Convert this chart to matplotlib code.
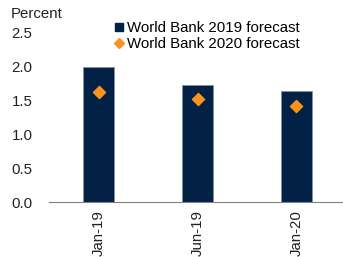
import numpy as np
import matplotlib.pyplot as plt
from matplotlib.lines import Line2D

plt.rcParams['font.family'] = ['Liberation Sans', 'DejaVu Sans']

categories = ['Jan-19', 'Jun-19', 'Jan-20']
wb2019 = [1.98, 1.72, 1.63]
wb2020 = [1.62, 1.52, 1.41]

fig = plt.figure(figsize=(3.43, 2.57), dpi=100)
ax = fig.add_axes([0.143, 0.214, 0.857, 0.661])

x = np.arange(len(categories))
ax.bar(x, wb2019, width=0.31, color='#022145', edgecolor='#7f93a8', linewidth=0.6)
ax.scatter(x, wb2020, marker='D', s=38, color='#f7941e', zorder=3)

ax.set_xlim(-0.5, 2.47)
ax.set_ylim(0, 2.5)
ax.set_yticks([0, 0.5, 1.0, 1.5, 2.0, 2.5])
ax.set_yticklabels(['0.0', '0.5', '1.0', '1.5', '2.0', '2.5'])
ax.set_xticks(x)
ax.set_xticklabels(categories, rotation=90)
ax.tick_params(axis='both', length=0, labelsize=10.8, colors='#222222')
ax.tick_params(axis='y', pad=12)
ax.tick_params(axis='x', pad=6)
for s in ['top', 'right', 'left']:
    ax.spines[s].set_visible(False)
ax.spines['bottom'].set_color('#808080')
ax.spines['bottom'].set_linewidth(0.8)

fig.text(0.03, 0.945, 'Percent', fontsize=10.8, color='#222222', va='center')
h1 = Line2D([], [], marker='s', ls='none', color='#022145', markersize=5.5)
h2 = Line2D([], [], marker='D', ls='none', color='#f7941e', markersize=5)
ax.legend([h1, h2], ['World Bank 2019 forecast', 'World Bank 2020 forecast'],
          loc='upper left', bbox_to_anchor=(0.2, 1.11), frameon=False, fontsize=10.8,
          handlelength=0.5, handletextpad=0.3, labelspacing=0.15, borderpad=0)

fig.savefig('out.png', dpi=100)
